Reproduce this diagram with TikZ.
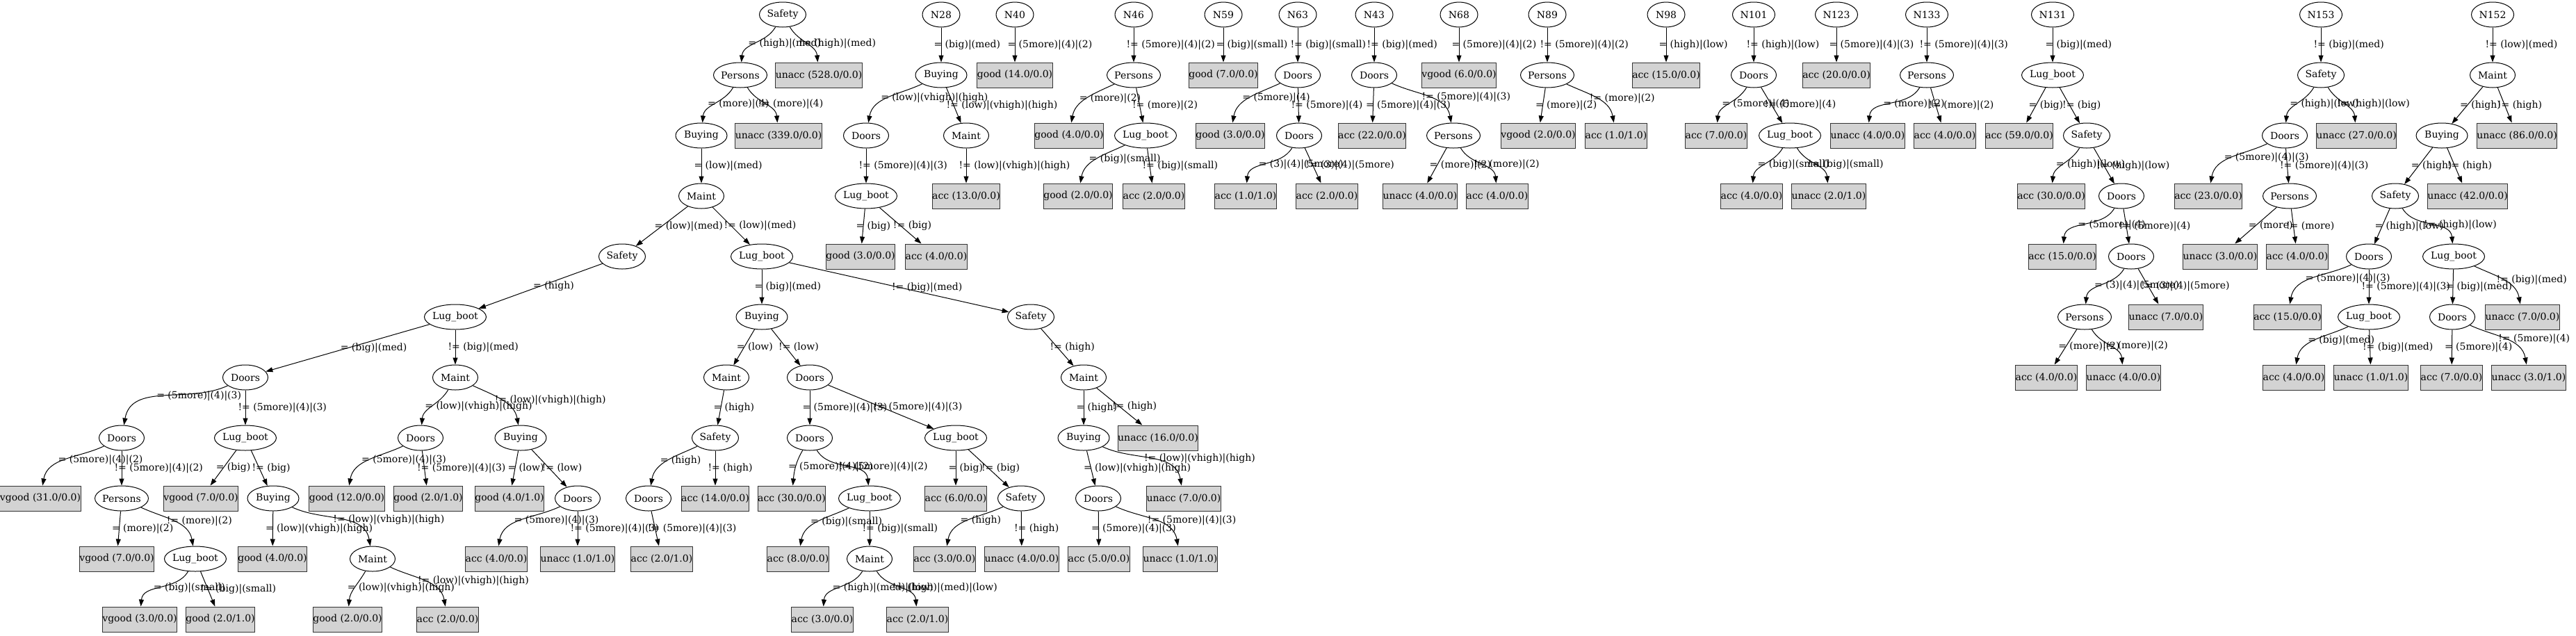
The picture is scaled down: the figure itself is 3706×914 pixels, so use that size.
\documentclass[tikz,border=0pt]{standalone}
\usepackage{fontspec}
\setmainfont{DejaVu Serif}
\usetikzlibrary{shapes.geometric,arrows.meta}
\definecolor{boxgray}{HTML}{D3D3D3}
\tikzset{
  every node/.style={font=\fontsize{14pt}{16pt}\selectfont, text=black},
  ell/.style={ellipse, draw=black, line width=1pt, minimum width=#1, minimum height=36pt, inner xsep=-1.5pt, inner ysep=0pt},
  ell/.default=65pt,
  box/.style={rectangle, draw=black!80, fill=boxgray, line width=1pt, minimum width=#1, minimum height=36pt, inner sep=0pt},
  box/.default=90pt,
  edge/.style={draw=black, line width=1pt, -{Triangle[length=10pt,width=7pt]}},
  lab/.style={pos=0.5, anchor=west, inner sep=0pt, xshift=-11pt},
  toL/.style={out=205, in=80},
  toLs/.style={out=240, in=85},
  toR/.style={out=-25, in=100},
  toRs/.style={out=-60, in=95}
}
\newcommand\edg[4][]{\draw[edge] (#2) to[#1] node[lab]{#4} (#3);}
\begin{document}
\begin{tikzpicture}[x=1pt,y=1pt]
\useasboundingbox (0,0) rectangle (3706,-914);
\fill[white] (0,0) rectangle (3706,-914);
% ---------- roots
\node[ell=67pt] (s0) at (1126,-21) {Safety};
\node[ell=54pt] (n28) at (1354,-21) {N28};
\node[ell=54pt] (n40) at (1460,-21) {N40};
\node[ell=54pt] (n46) at (1631,-21) {N46};
\node[ell=54pt] (n59) at (1760,-21) {N59};
\node[ell=54pt] (n63) at (1867,-21) {N63};
\node[ell=54pt] (n43) at (1977,-21) {N43};
\node[ell=54pt] (n68) at (2099,-21) {N68};
\node[ell=54pt] (n89) at (2226,-21) {N89};
\node[ell=54pt] (n98) at (2397,-21) {N98};
\node[ell=61pt] (n101) at (2523,-21) {N101};
\node[ell=61pt] (n123) at (2642,-21) {N123};
\node[ell=61pt] (n133) at (2772,-21) {N133};
\node[ell=61pt] (n131) at (2953,-21) {N131};
\node[ell=61pt] (n153) at (3339,-21) {N153};
\node[ell=61pt] (n152) at (3586,-21) {N152};
% ---------- main tree
\node[ell=77pt] (p1) at (1065,-108) {Persons};
\node[box=112pt] (u528) at (1178,-108) {unacc (528.0/0.0)};
\node[ell=74pt] (b2) at (1009,-195) {Buying};
\node[box=113pt] (u339) at (1120,-195) {unacc (339.0/0.0)};
\node[ell=65pt] (m3) at (1009,-282) {Maint};
\node[ell=67pt] (s4) at (895,-369) {Safety};
\node[ell=89pt] (lb4) at (1096,-369) {Lug\_boot};
\node[ell=89pt] (lb5) at (655,-456) {Lug\_boot};
\node[ell=74pt] (bu5) at (1096,-456) {Buying};
\node[ell=67pt] (sa5) at (1483,-456) {Safety};
\node[ell=65pt] (d6) at (353,-543) {Doors};
\node[ell=65pt] (m6) at (655,-543) {Maint};
\node[ell=65pt] (mo6) at (1045,-543) {Maint};
\node[ell=65pt] (dp6) at (1165,-543) {Doors};
\node[ell=65pt] (mn6) at (1559,-543) {Maint};
\node[ell=65pt] (d7a) at (175,-630) {Doors};
\node[ell=89pt] (lb7) at (353,-630) {Lug\_boot};
\node[ell=65pt] (di7) at (605,-630) {Doors};
\node[ell=74pt] (bj7) at (749,-630) {Buying};
\node[ell=67pt] (sq7) at (1029,-630) {Safety};
\node[ell=65pt] (dt7) at (1165,-630) {Doors};
\node[ell=89pt] (ls7) at (1375,-630) {Lug\_boot};
\node[ell=74pt] (bn7) at (1559,-630) {Buying};
\node[box=106pt] (u16) at (1666,-630) {unacc (16.0/0.0)};
\node[box=108pt] (v31) at (58,-717) {vgood (31.0/0.0)};
\node[ell=77pt] (pe8) at (175,-717) {Persons};
\node[box=101pt] (v7a) at (289,-717) {vgood (7.0/0.0)};
\node[ell=74pt] (bg8) at (393,-717) {Buying};
\node[box=101pt] (g12) at (499,-717) {good (12.0/0.0)};
\node[box=95pt] (g21a) at (616,-717) {good (2.0/1.0)};
\node[box=95pt] (g41) at (733,-717) {good (4.0/1.0)};
\node[ell=65pt] (dk8) at (831,-717) {Doors};
\node[ell=65pt] (dr8) at (933,-717) {Doors};
\node[box=92pt] (a14) at (1029,-717) {acc (14.0/0.0)};
\node[box=92pt] (a30) at (1139,-717) {acc (30.0/0.0)};
\node[ell=89pt] (lu8) at (1251,-717) {Lug\_boot};
\node[box=86pt] (a6) at (1375,-717) {acc (6.0/0.0)};
\node[ell=67pt] (sv8) at (1469,-717) {Safety};
\node[ell=65pt] (dw8) at (1580,-717) {Doors};
\node[box=99pt] (u7a) at (1703,-717) {unacc (7.0/0.0)};
\node[box=101pt] (v7b) at (168,-804) {vgood (7.0/0.0)};
\node[ell=89pt] (lf9) at (281,-804) {Lug\_boot};
\node[box=95pt] (g40) at (392,-804) {good (4.0/0.0)};
\node[ell=65pt] (mh9) at (536,-804) {Maint};
\node[box=86pt] (a40a) at (714,-804) {acc (4.0/0.0)};
\node[box=99pt] (u11a) at (831,-804) {unacc (1.0/1.0)};
\node[box=86pt] (a21a) at (952,-804) {acc (2.0/1.0)};
\node[box=86pt] (a8) at (1148,-804) {acc (8.0/0.0)};
\node[ell=65pt] (mx9) at (1251,-804) {Maint};
\node[box=86pt] (a3a) at (1359,-804) {acc (3.0/0.0)};
\node[box=99pt] (u4a) at (1470,-804) {unacc (4.0/0.0)};
\node[box=86pt] (a5) at (1581,-804) {acc (5.0/0.0)};
\node[box=99pt] (u11b) at (1698,-804) {unacc (1.0/1.0)};
\node[box=101pt] (v3) at (201,-891) {vgood (3.0/0.0)};
\node[box=95pt] (g21b) at (317,-891) {good (2.0/1.0)};
\node[box=95pt] (g20a) at (500,-891) {good (2.0/0.0)};
\node[box=87pt] (a20a) at (644,-891) {acc (2.0/0.0)};
\node[box=86pt] (a30b) at (1183,-891) {acc (3.0/0.0)};
\node[box=86pt] (a21b) at (1320,-891) {acc (2.0/1.0)};
% ---------- N28 .. N59
\node[ell=74pt] (bu28) at (1354,-108) {Buying};
\node[box=101pt] (g14) at (1460,-108) {good (14.0/0.0)};
\node[ell=65pt] (do28) at (1246,-195) {Doors};
\node[ell=65pt] (ma28) at (1390,-195) {Maint};
\node[ell=89pt] (lb28) at (1246,-282) {Lug\_boot};
\node[box=92pt] (a13) at (1390,-282) {acc (13.0/0.0)};
\node[box=95pt] (g30) at (1238,-369) {good (3.0/0.0)};
\node[box=86pt] (a40b) at (1347,-369) {acc (4.0/0.0)};
\node[ell=77pt] (pe46) at (1631,-108) {Persons};
\node[box=95pt] (g40b) at (1538,-195) {good (4.0/0.0)};
\node[ell=89pt] (lb46) at (1648,-195) {Lug\_boot};
\node[box=95pt] (g20b) at (1551,-282) {good (2.0/0.0)};
\node[box=87pt] (a20b) at (1660,-282) {acc (2.0/0.0)};
\node[box=95pt] (g7c) at (1760,-108) {good (7.0/0.0)};
% ---------- N63, N43, N68, N89, N98
\node[ell=65pt] (do63) at (1867,-108) {Doors};
\node[box=95pt] (g30b) at (1770,-195) {good (3.0/0.0)};
\node[ell=65pt] (do63b) at (1869,-195) {Doors};
\node[box=86pt] (a11c) at (1792,-282) {acc (1.0/1.0)};
\node[box=86pt] (a20c) at (1909,-282) {acc (2.0/0.0)};
\node[ell=65pt] (do43) at (1977,-108) {Doors};
\node[box=92pt] (a22) at (1974,-195) {acc (22.0/0.0)};
\node[ell=77pt] (pe43) at (2091,-195) {Persons};
\node[box=99pt] (u40c) at (2043,-282) {unacc (4.0/0.0)};
\node[box=86pt] (a40c) at (2154,-282) {acc (4.0/0.0)};
\node[box=101pt] (v6) at (2099,-108) {vgood (6.0/0.0)};
\node[ell=77pt] (pe89) at (2226,-108) {Persons};
\node[box=101pt] (v20) at (2213,-195) {vgood (2.0/0.0)};
\node[box=86pt] (a11d) at (2325,-195) {acc (1.0/1.0)};
\node[box=92pt] (a15) at (2397,-108) {acc (15.0/0.0)};
% ---------- N101, N123, N133
\node[ell=65pt] (do101) at (2523,-108) {Doors};
\node[box=86pt] (a7) at (2469,-195) {acc (7.0/0.0)};
\node[ell=89pt] (lb101) at (2575,-195) {Lug\_boot};
\node[box=86pt] (a40d) at (2520,-282) {acc (4.0/0.0)};
\node[box=99pt] (u21) at (2631,-282) {unacc (2.0/1.0)};
\node[box=92pt] (a20d) at (2642,-108) {acc (20.0/0.0)};
\node[ell=77pt] (pe133) at (2772,-108) {Persons};
\node[box=99pt] (u40d) at (2687,-195) {unacc (4.0/0.0)};
\node[box=86pt] (a40e) at (2798,-195) {acc (4.0/0.0)};
% ---------- N131
\node[ell=89pt] (lb131) at (2953,-108) {Lug\_boot};
\node[box=92pt] (a59) at (2905,-195) {acc (59.0/0.0)};
\node[ell=67pt] (sa131) at (3002,-195) {Safety};
\node[box=92pt] (a30c) at (2951,-282) {acc (30.0/0.0)};
\node[ell=65pt] (do131) at (3052,-282) {Doors};
\node[box=92pt] (a15b) at (2967,-369) {acc (15.0/0.0)};
\node[ell=65pt] (do131b) at (3066,-369) {Doors};
\node[ell=77pt] (pe131) at (2999,-456) {Persons};
\node[box=99pt] (u7b) at (3116,-456) {unacc (7.0/0.0)};
\node[box=86pt] (a40f) at (2944,-543) {acc (4.0/0.0)};
\node[box=99pt] (u40e) at (3055,-543) {unacc (4.0/0.0)};
% ---------- N153
\node[ell=67pt] (sa153) at (3339,-108) {Safety};
\node[ell=65pt] (do153) at (3287,-195) {Doors};
\node[box=105pt] (u27) at (3390,-195) {unacc (27.0/0.0)};
\node[box=92pt] (a23) at (3177,-282) {acc (23.0/0.0)};
\node[ell=77pt] (pe153) at (3294,-282) {Persons};
\node[box=99pt] (u30) at (3194,-369) {unacc (3.0/0.0)};
\node[box=86pt] (a40g) at (3305,-369) {acc (4.0/0.0)};
% ---------- N152
\node[ell=65pt] (ma152) at (3586,-108) {Maint};
\node[ell=74pt] (bu152) at (3513,-195) {Buying};
\node[box=105pt] (u86) at (3621,-195) {unacc (86.0/0.0)};
\node[ell=67pt] (sa152) at (3446,-282) {Safety};
\node[box=107pt] (u42) at (3550,-282) {unacc (42.0/0.0)};
\node[ell=65pt] (do152) at (3408,-369) {Doors};
\node[ell=89pt] (lb152a) at (3530,-369) {Lug\_boot};
\node[box=92pt] (a15c) at (3291,-456) {acc (15.0/0.0)};
\node[ell=89pt] (lb152b) at (3408,-456) {Lug\_boot};
\node[ell=65pt] (do152b) at (3528,-456) {Doors};
\node[box=99pt] (u7c) at (3629,-456) {unacc (7.0/0.0)};
\node[box=86pt] (a40h) at (3300,-543) {acc (4.0/0.0)};
\node[box=99pt] (u11e) at (3411,-543) {unacc (1.0/1.0)};
\node[box=86pt] (a70) at (3527,-543) {acc (7.0/0.0)};
\node[box=99pt] (u31) at (3638,-543) {unacc (3.0/1.0)};
% ================= edges: main tree
\edg[toLs]{s0}{p1}{= (high)|(med)}
\edg[toRs]{s0}{u528}{!= (high)|(med)}
\edg[toLs]{p1}{b2}{= (more)|(4)}
\edg[toRs]{p1}{u339}{!= (more)|(4)}
\edg{b2}{m3}{= (low)|(med)}
\edg{m3}{s4}{= (low)|(med)}
\edg{m3}{lb4}{!= (low)|(med)}
\edg{s4}{lb5}{= (high)}
\edg{lb5}{d6}{= (big)|(med)}
\edg{lb5}{m6}{!= (big)|(med)}
\edg[toL]{d6}{d7a}{= (5more)|(4)|(3)}
\edg{d6}{lb7}{!= (5more)|(4)|(3)}
\edg[toL]{d7a}{v31}{= (5more)|(4)|(2)}
\edg{d7a}{pe8}{!= (5more)|(4)|(2)}
\edg{pe8}{v7b}{= (more)|(2)}
\edg[toR]{pe8}{lf9}{!= (more)|(2)}
\edg[toLs]{lf9}{v3}{= (big)|(small)}
\edg{lf9}{g21b}{!= (big)|(small)}
\edg{lb7}{v7a}{= (big)}
\edg{lb7}{bg8}{!= (big)}
\edg{bg8}{g40}{= (low)|(vhigh)|(high)}
\edg[toR]{bg8}{mh9}{!= (low)|(vhigh)|(high)}
\edg[toLs]{mh9}{g20a}{= (low)|(vhigh)|(high)}
\edg[toR]{mh9}{a20a}{!= (low)|(vhigh)|(high)}
\edg[toLs]{m6}{di7}{= (low)|(vhigh)|(high)}
\edg[toR]{m6}{bj7}{!= (low)|(vhigh)|(high)}
\edg[toL]{di7}{g12}{= (5more)|(4)|(3)}
\edg{di7}{g21a}{!= (5more)|(4)|(3)}
\edg{bj7}{g41}{= (low)}
\edg{bj7}{dk8}{!= (low)}
\edg[toL]{dk8}{a40a}{= (5more)|(4)|(3)}
\edg{dk8}{u11a}{!= (5more)|(4)|(3)}
\edg{lb4}{bu5}{= (big)|(med)}
\edg{lb4}{sa5}{!= (big)|(med)}
\edg{bu5}{mo6}{= (low)}
\edg{bu5}{dp6}{!= (low)}
\edg{mo6}{sq7}{= (high)}
\edg[toL]{sq7}{dr8}{= (high)}
\edg{sq7}{a14}{!= (high)}
\edg{dr8}{a21a}{!= (5more)|(4)|(3)}
\edg{dp6}{dt7}{= (5more)|(4)|(3)}
\edg{dp6}{ls7}{!= (5more)|(4)|(3)}
\edg[toLs]{dt7}{a30}{= (5more)|(4)|(2)}
\edg[toRs]{dt7}{lu8}{!= (5more)|(4)|(2)}
\edg[toL]{lu8}{a8}{= (big)|(small)}
\edg{lu8}{mx9}{!= (big)|(small)}
\edg[toLs]{mx9}{a30b}{= (high)|(med)|(low)}
\edg[toRs]{mx9}{a21b}{!= (high)|(med)|(low)}
\edg{ls7}{a6}{= (big)}
\edg{ls7}{sv8}{!= (big)}
\edg[toL]{sv8}{a3a}{= (high)}
\edg{sv8}{u4a}{!= (high)}
\edg{sa5}{mn6}{!= (high)}
\edg{mn6}{bn7}{= (high)}
\edg{mn6}{u16}{!= (high)}
\edg{bn7}{dw8}{= (low)|(vhigh)|(high)}
\edg[toR]{bn7}{u7a}{!= (low)|(vhigh)|(high)}
\edg{dw8}{a5}{= (5more)|(4)|(3)}
\edg[toR]{dw8}{u11b}{!= (5more)|(4)|(3)}
% ================= edges: other trees
\edg{n28}{bu28}{= (big)|(med)}
\edg{n40}{g14}{= (5more)|(4)|(2)}
\edg[toL]{bu28}{do28}{= (low)|(vhigh)|(high)}
\edg{bu28}{ma28}{!= (low)|(vhigh)|(high)}
\edg{do28}{lb28}{!= (5more)|(4)|(3)}
\edg{ma28}{a13}{!= (low)|(vhigh)|(high)}
\edg{lb28}{g30}{= (big)}
\edg{lb28}{a40b}{!= (big)}
\edg{n46}{pe46}{!= (5more)|(4)|(2)}
\edg[toL]{pe46}{g40b}{= (more)|(2)}
\edg{pe46}{lb46}{!= (more)|(2)}
\edg[toL]{lb46}{g20b}{= (big)|(small)}
\edg{lb46}{a20b}{!= (big)|(small)}
\edg{n59}{g7c}{= (big)|(small)}
\edg{n63}{do63}{!= (big)|(small)}
\edg[toL]{do63}{g30b}{= (5more)|(4)}
\edg{do63}{do63b}{!= (5more)|(4)}
\edg[toLs]{do63b}{a11c}{= (3)|(4)|(5more)}
\edg{do63b}{a20c}{!= (3)|(4)|(5more)}
\edg{n43}{do43}{!= (big)|(med)}
\edg{do43}{a22}{= (5more)|(4)|(3)}
\edg[toR]{do43}{pe43}{!= (5more)|(4)|(3)}
\edg{pe43}{u40c}{= (more)|(2)}
\edg[toRs]{pe43}{a40c}{!= (more)|(2)}
\edg{n68}{v6}{= (5more)|(4)|(2)}
\edg{n89}{pe89}{!= (5more)|(4)|(2)}
\edg{pe89}{v20}{= (more)|(2)}
\edg[toR]{pe89}{a11d}{!= (more)|(2)}
\edg{n98}{a15}{= (high)|(low)}
\edg{n101}{do101}{!= (high)|(low)}
\edg[toLs]{do101}{a7}{= (5more)|(4)}
\edg{do101}{lb101}{!= (5more)|(4)}
\edg[toLs]{lb101}{a40d}{= (big)|(small)}
\edg[toRs]{lb101}{u21}{!= (big)|(small)}
\edg{n123}{a20d}{= (5more)|(4)|(3)}
\edg{n133}{pe133}{!= (5more)|(4)|(3)}
\edg[toLs]{pe133}{u40d}{= (more)|(2)}
\edg{pe133}{a40e}{!= (more)|(2)}
\edg{n131}{lb131}{= (big)|(med)}
\edg{lb131}{a59}{= (big)}
\edg{lb131}{sa131}{!= (big)}
\edg[toLs]{sa131}{a30c}{= (high)|(low)}
\edg{sa131}{do131}{!= (high)|(low)}
\edg[toLs]{do131}{a15b}{= (5more)|(4)}
\edg{do131}{do131b}{!= (5more)|(4)}
\edg[toLs]{do131b}{pe131}{= (3)|(4)|(5more)}
\edg{do131b}{u7b}{!= (3)|(4)|(5more)}
\edg{pe131}{a40f}{= (more)|(2)}
\edg[toRs]{pe131}{u40e}{!= (more)|(2)}
\edg{n153}{sa153}{!= (big)|(med)}
\edg[toLs]{sa153}{do153}{= (high)|(low)}
\edg[toRs]{sa153}{u27}{!= (high)|(low)}
\edg[toL]{do153}{a23}{= (5more)|(4)|(3)}
\edg{do153}{pe153}{!= (5more)|(4)|(3)}
\edg{pe153}{u30}{= (more)}
\edg{pe153}{a40g}{!= (more)}
\edg{n152}{ma152}{!= (low)|(med)}
\edg{ma152}{bu152}{= (high)}
\edg{ma152}{u86}{!= (high)}
\edg{bu152}{sa152}{= (high)}
\edg{bu152}{u42}{!= (high)}
\edg{sa152}{do152}{= (high)|(low)}
\edg[toRs]{sa152}{lb152a}{!= (high)|(low)}
\edg[toL]{do152}{a15c}{= (5more)|(4)|(3)}
\edg{do152}{lb152b}{!= (5more)|(4)|(3)}
\edg{lb152a}{do152b}{= (big)|(med)}
\edg[toR]{lb152a}{u7c}{!= (big)|(med)}
\edg[toL]{lb152b}{a40h}{= (big)|(med)}
\edg{lb152b}{u11e}{!= (big)|(med)}
\edg{do152b}{a70}{= (5more)|(4)}
\edg[toR]{do152b}{u31}{!= (5more)|(4)}
\end{tikzpicture}
\end{document}
